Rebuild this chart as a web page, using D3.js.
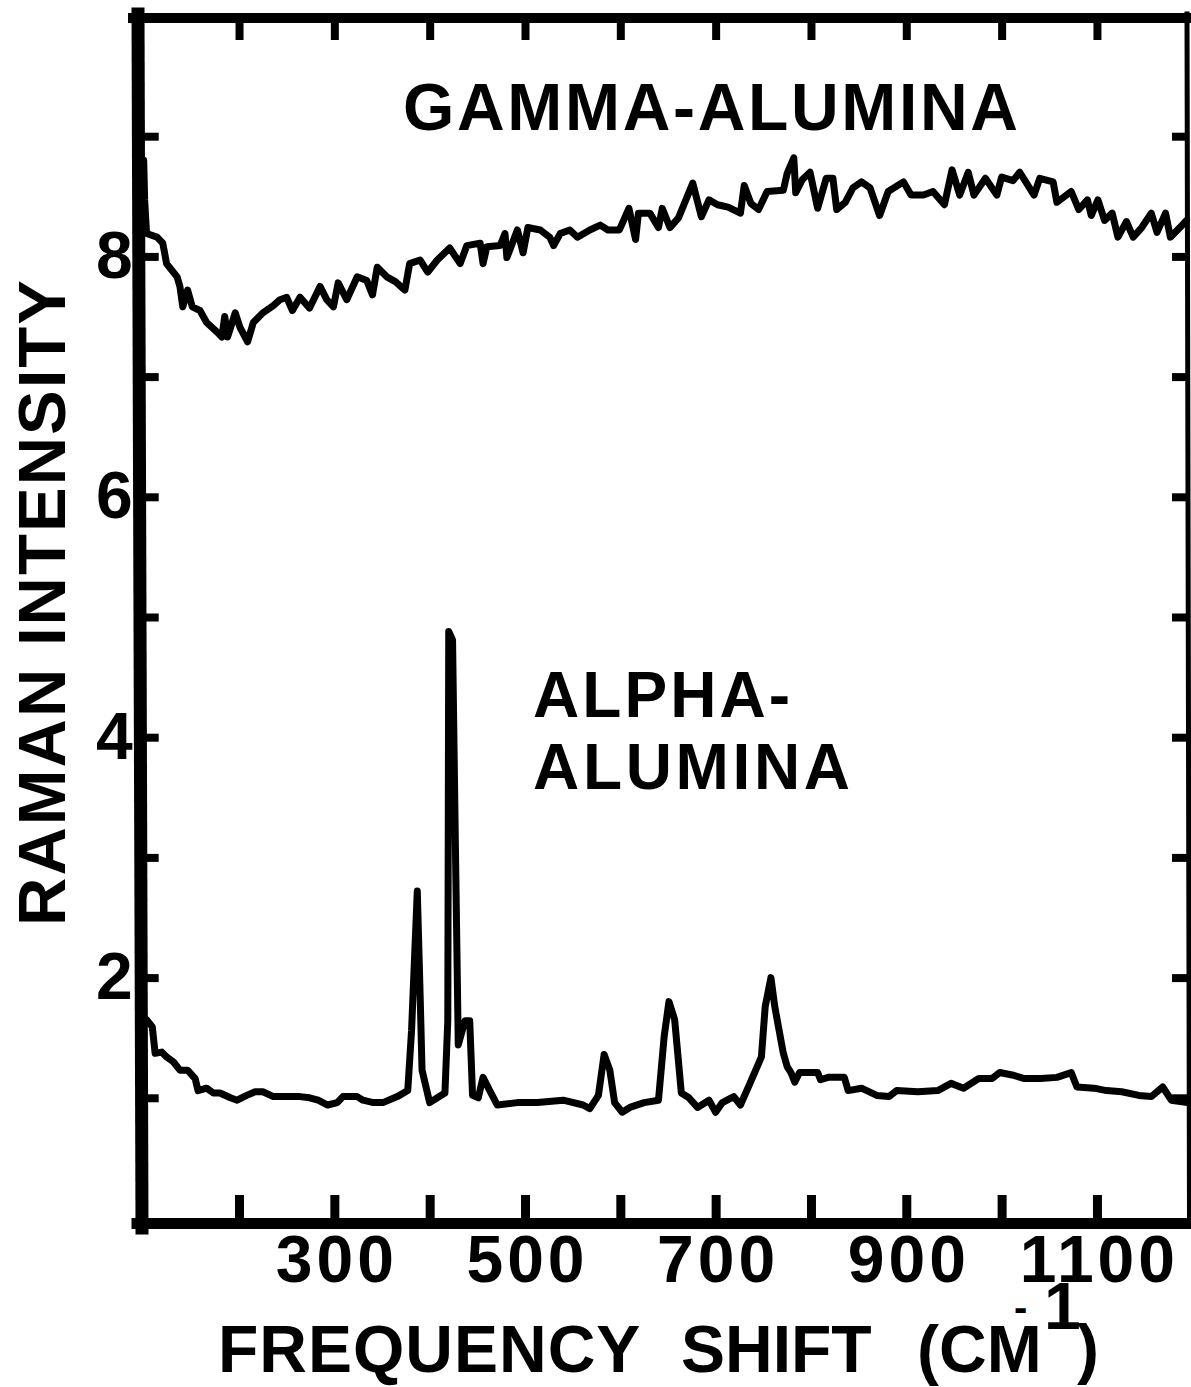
<!DOCTYPE html>
<html><head><meta charset="utf-8">
<script src="https://cdn.jsdelivr.net/npm/d3@7"></script>
<style>html,body{margin:0;padding:0;background:#fff;} svg{display:block;}</style>
</head><body>
<svg id="chart" width="1191" height="1387"></svg>
<script>
// ---- data ----
const gammaShift = [100,101,103,114,120,124,135,138,141,146,151,159,166,177,182,185,188,196,201,209,215,225,236,243,250,256,264,274,285,292,299,304,313,324,334,340,345,355,364,374,379,390,398,408,421,432,439,453,456,460,474,479,481,492,498,503,516,526,530,537,547,555,568,579,587,599,609,616,619,631,640,644,652,661,676,685,693,702,713,726,730,737,745,754,771,775,782,784,791,799,807,816,823,827,836,844,853,862,872,881,897,905,918,928,940,948,956,965,971,983,995,1000,1012,1019,1034,1040,1054,1058,1073,1081,1090,1094,1101,1108,1116,1122,1131,1138,1147,1157,1163,1172,1177,1187,1194];
const gammaIntensity = [8.80,8.47,8.19,8.16,8.11,7.94,7.83,7.75,7.58,7.72,7.58,7.55,7.45,7.37,7.33,7.50,7.33,7.53,7.41,7.29,7.45,7.53,7.59,7.64,7.66,7.55,7.66,7.57,7.75,7.64,7.58,7.78,7.64,7.83,7.80,7.68,7.91,7.83,7.79,7.72,7.94,7.97,7.87,7.97,8.07,7.94,8.09,8.11,7.94,8.08,8.09,8.19,7.99,8.22,8.03,8.24,8.22,8.16,8.09,8.19,8.22,8.16,8.22,8.26,8.22,8.22,8.40,8.14,8.36,8.36,8.24,8.40,8.24,8.32,8.61,8.33,8.47,8.43,8.41,8.36,8.59,8.44,8.39,8.54,8.55,8.69,8.82,8.53,8.64,8.70,8.40,8.65,8.65,8.39,8.45,8.57,8.62,8.57,8.34,8.54,8.62,8.51,8.51,8.54,8.43,8.72,8.51,8.70,8.51,8.65,8.51,8.66,8.63,8.70,8.51,8.65,8.62,8.45,8.54,8.39,8.47,8.34,8.47,8.30,8.36,8.16,8.29,8.16,8.24,8.36,8.20,8.36,8.16,8.24,8.30];

const alphaShift = [103,109,112,119,124,131,138,146,154,157,166,173,180,191,198,208,217,225,236,250,264,274,283,293,303,309,324,330,341,351,366,377,381,387,390,392,400,408,416,419,420,424,427,430,437,442,445,451,456,463,471,492,513,540,561,568,577,583,589,594,602,610,625,640,646,651,657,664,672,681,693,700,707,719,726,736,748,752,758,762,771,775,779,783,788,801,807,810,818,835,839,853,869,882,890,912,933,947,960,976,990,998,1011,1024,1041,1058,1073,1079,1097,1110,1126,1144,1157,1169,1178,1195];
const alphaIntensity = [1.65,1.59,1.37,1.38,1.34,1.30,1.23,1.23,1.16,1.06,1.08,1.04,1.04,1.00,0.98,1.02,1.05,1.05,1.01,1.01,1.01,1.00,0.98,0.94,0.96,1.01,1.01,0.98,0.96,0.96,1.01,1.06,1.56,2.72,1.85,1.23,0.96,1.00,1.04,1.64,4.88,4.81,3.09,1.44,1.64,1.64,1.02,1.00,1.17,1.06,0.94,0.96,0.96,0.98,0.94,0.91,1.02,1.36,1.23,0.96,0.88,0.92,0.96,0.98,1.51,1.80,1.65,1.04,1.00,0.92,0.98,0.88,0.96,1.01,0.94,1.12,1.34,1.76,2.00,1.76,1.37,1.26,1.21,1.13,1.21,1.21,1.21,1.15,1.17,1.17,1.06,1.08,1.02,1.01,1.06,1.05,1.06,1.12,1.08,1.16,1.16,1.21,1.19,1.16,1.16,1.17,1.21,1.09,1.08,1.06,1.05,1.02,1.01,1.09,0.98,0.96];

const xTickValues = [200,300,400,500,600,700,800,900,1000,1100];
const xTickLabels = ["","300","","500","","700","","900","","1100"];
const yTickValues = [1,2,3,4,5,6,7,8,9];
const yTickLabels = ["","2","","4","","6","","8",""];

const gammaLabel = "GAMMA-ALUMINA";
const alphaLabelLines = ["ALPHA-", "ALUMINA"];
const yTitle = "RAMAN INTENSITY";
const xTitleParts = ["FREQUENCY", "SHIFT", "(CM", "-", "1", ")"];

// ---- drawing ----
const svg = d3.select("#chart");
const FONT = "'Liberation Sans', Arial, Helvetica, sans-serif";
const x = d3.scaleLinear().domain([100, 1195]).range([143.7, 1187.5]);
const y = d3.scaleLinear().domain([0, 10]).range([1218, 16]);

svg.append("rect").attr("width", 1191).attr("height", 1387).attr("fill", "#fff");

const line = d3.line().x(d => x(d[0])).y(d => y(d[1]));
const series = [d3.zip(gammaShift, gammaIntensity), d3.zip(alphaShift, alphaIntensity)];
svg.selectAll("path.curve").data(series).enter().append("path")
  .attr("class", "curve")
  .attr("d", line)
  .attr("fill", "none").attr("stroke", "#000")
  .attr("stroke-width", 7)
  .attr("stroke-linejoin", "round").attr("stroke-linecap", "round");

// frame
const frame = svg.append("g").attr("stroke", "#000").attr("stroke-linecap", "square");
frame.append("line").attr("x1", 138).attr("y1", 14).attr("x2", 142).attr("y2", 1228).attr("stroke-width", 13);
frame.append("line").attr("x1", 133).attr("y1", 18).attr("x2", 1188).attr("y2", 18).attr("stroke-width", 10);
frame.append("line").attr("x1", 137).attr("y1", 1223.5).attr("x2", 1190).attr("y2", 1223.5).attr("stroke-width", 11);
frame.append("line").attr("x1", 1187).attr("y1", 14).attr("x2", 1189.5).attr("y2", 1220).attr("stroke-width", 5);

function styleAxis(g, w) {
  g.select(".domain").remove();
  g.attr("font-family", FONT).attr("font-weight", "bold");
  g.selectAll(".tick line").attr("stroke", "#000").attr("stroke-width", w);
  g.selectAll(".tick text").attr("fill", "#000");
}

const fmtX = v => xTickLabels[xTickValues.indexOf(v)];
const fmtY = v => yTickLabels[yTickValues.indexOf(v)];

const gB = svg.append("g").attr("transform", "translate(0,1218)")
  .call(d3.axisBottom(x).tickValues(xTickValues).tickFormat(fmtX).tickSizeInner(-23).tickSizeOuter(0).tickPadding(17));
styleAxis(gB, 9);
gB.attr("font-size", 66);
gB.selectAll(".tick text").attr("letter-spacing", 4).attr("dx", 2);

const gT = svg.append("g").attr("transform", "translate(0,16)")
  .call(d3.axisTop(x).tickValues(xTickValues).tickFormat("").tickSizeInner(-24).tickSizeOuter(0));
styleAxis(gT, 8);

const gL = svg.append("g").attr("transform", "translate(143.7,0)")
  .call(d3.axisLeft(y).tickValues(yTickValues).tickFormat(fmtY).tickSizeInner(-15).tickSizeOuter(0).tickPadding(11));
styleAxis(gL, 8);
gL.attr("font-size", 66);

const gR = svg.append("g").attr("transform", "translate(1187,0)")
  .call(d3.axisRight(y).tickValues(yTickValues).tickFormat("").tickSizeInner(-15).tickSizeOuter(0));
styleAxis(gR, 8);

// texts
function txt(s, xp, yp, size, len, anchor) {
  const t = svg.append("text").text(s)
    .attr("x", xp).attr("y", yp)
    .attr("font-family", FONT).attr("font-weight", "bold")
    .attr("font-size", size).attr("fill", "#000")
    .attr("text-anchor", anchor || "start");
  if (len) t.attr("textLength", len).attr("lengthAdjust", "spacing");
  return t;
}

txt(gammaLabel, 403, 130, 66, 615);
txt(alphaLabelLines[0], 533, 717, 64, 257);
txt(alphaLabelLines[1], 533, 789, 64, 317);

svg.append("text").text(yTitle)
  .attr("transform", "translate(65,603) rotate(-90)")
  .attr("text-anchor", "middle")
  .attr("font-family", FONT).attr("font-weight", "bold")
  .attr("font-size", 67).attr("fill", "#000")
  .attr("textLength", 646).attr("lengthAdjust", "spacing");

// x-axis title as one text element with positioned pieces
const xt = svg.append("text")
  .attr("font-family", FONT).attr("font-weight", "bold")
  .attr("font-size", 66).attr("fill", "#000");
xt.append("tspan").attr("x", 218).attr("y", 1372).attr("letter-spacing", 1).text(xTitleParts[0]);
xt.append("tspan").attr("x", 681).attr("y", 1372).text(xTitleParts[1]);
xt.append("tspan").attr("x", 917).attr("y", 1372).text(xTitleParts[2]);
xt.append("tspan").attr("x", 1014).attr("y", 1321).attr("font-size", 40).text(xTitleParts[3]);
xt.append("tspan").attr("x", 1044).attr("y", 1329).text(xTitleParts[4]);
xt.append("tspan").attr("x", 1077).attr("y", 1371).text(xTitleParts[5]);
</script>
</body></html>
